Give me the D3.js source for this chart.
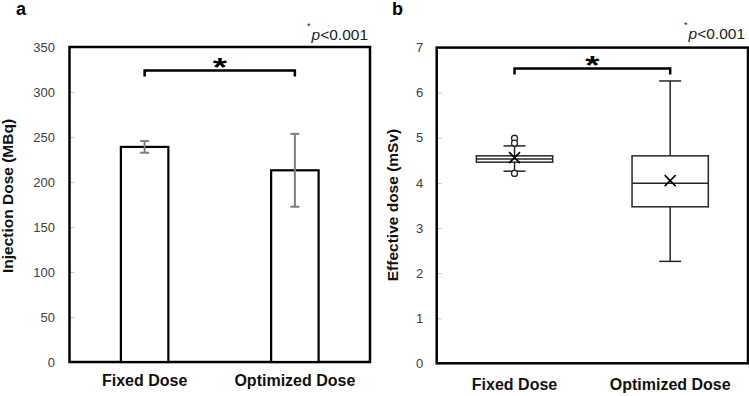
<!DOCTYPE html>
<html>
<head>
<meta charset="utf-8">
<script src="https://cdn.jsdelivr.net/npm/d3@7"></script>
<style>
  body { margin: 0; background: #fff; }
  svg { display: block; font-family: "Liberation Sans", Arial, sans-serif; }
</style>
</head>
<body>
<svg id="chart" width="749" height="396"></svg>
<script>
// categories shared by both panels
const categories = ["Fixed Dose", "Optimized Dose"];

// panel a: injection dose, mean and SD (MBq)
const injMean = [239, 213];
const injSD = [6.5, 40.5];
const ticksA = [0, 50, 100, 150, 200, 250, 300, 350];

// panel b: effective dose box plot (mSv)
const whiskerLow = [4.26, 2.26];
const q1 = [4.46, 3.47];
const median = [4.53, 3.99];
const q3 = [4.60, 4.60];
const whiskerHigh = [4.82, 6.26];
const meanB = [4.56, 4.05];
const outliers = [[4.99, 4.88, 4.21], []];
const ticksB = [0, 1, 2, 3, 4, 5, 6, 7];

const svg = d3.select("#chart");

// Draw frame, ticks, labels common to both panels
function panel(opt) {
  const x = d3.scalePoint().domain(categories).range([opt.left, opt.right]).padding(0.5);
  const y = d3.scaleLinear().domain(opt.domain).range([opt.bottom, opt.top]);
  const g = svg.append("g");

  // y axis (ticks point inward, labels outside)
  const ax = g.append("g")
    .attr("transform", `translate(${opt.left},0)`)
    .call(d3.axisLeft(y).tickValues(opt.ticks).tickFormat(d3.format("d"))
      .tickSize(-5).tickPadding(opt.labelPad));
  ax.select(".domain").remove();
  ax.selectAll(".tick line").attr("stroke", "#c8c8c8").attr("stroke-width", 1);
  ax.selectAll(".tick text")
    .attr("fill", "#404040")
    .style("font-size", "13px")
    .style("font-family", "'Liberation Sans', Arial, sans-serif");

  // frame
  g.append("rect")
    .attr("x", opt.left).attr("y", opt.top)
    .attr("width", opt.right - opt.left).attr("height", opt.bottom - opt.top)
    .attr("fill", "none").attr("stroke", "#000").attr("stroke-width", 2.5);

  // category labels
  g.selectAll(".xlab")
    .data(categories)
    .join("text")
    .attr("x", d => x(d))
    .attr("y", opt.xlabY)
    .attr("text-anchor", "middle")
    .attr("font-weight", "bold")
    .attr("font-size", 16)
    .attr("fill", "#111")
    .text(d => d);

  // y title
  g.append("text")
    .attr("transform", `translate(${opt.titleX},${opt.titleY}) rotate(-90)`)
    .attr("text-anchor", "middle")
    .attr("font-weight", "bold")
    .attr("font-size", 15.5)
    .attr("fill", "#111")
    .text(opt.title);

  // panel letter
  g.append("text")
    .attr("x", opt.letterX).attr("y", 15)
    .attr("font-weight", "bold")
    .attr("font-size", 18)
    .text(opt.letter);

  // p value note
  const pt = g.append("text")
    .attr("x", opt.pX).attr("y", opt.pY)
    .attr("text-anchor", "end")
    .attr("font-size", 15.5)
    .attr("fill", "#222");
  pt.append("tspan").attr("font-style", "italic").text("p");
  pt.append("tspan").text("<0.001");
  g.append("text")
    .attr("x", opt.pX - 61).attr("y", opt.pY - 11)
    .attr("font-size", 9)
    .attr("fill", "#222")
    .text("*");

  // significance bracket
  const x0 = x(categories[0]), x1 = x(categories[1]);
  g.append("path")
    .attr("d", `M${x0},${opt.brY + 6}V${opt.brY}H${x1}V${opt.brY + 6}`)
    .attr("fill", "none").attr("stroke", "#000").attr("stroke-width", 2.5);
  g.append("text")
    .attr("transform", `translate(${(x0 + x1) / 2},${opt.brY + 5}) scale(1.4,1)`)
    .attr("text-anchor", "middle")
    .attr("font-weight", "bold")
    .attr("font-size", 26)
    .text("*");

  return { g, x, y };
}

// ---- panel a ----
const A = panel({
  left: 69.5, right: 370, top: 47, bottom: 362, domain: [0, 350], ticks: ticksA,
  labelPad: 14.5, xlabY: 386, title: "Injection Dose (MBq)", titleX: 13, titleY: 196,
  letter: "a", letterX: 16, pX: 368, pY: 40, brY: 70.5
});
const barW = A.x.step() * 0.316;
A.g.selectAll(".bar")
  .data(categories)
  .join("rect")
  .attr("x", d => A.x(d) - barW / 2)
  .attr("y", (d, i) => A.y(injMean[i]))
  .attr("width", barW)
  .attr("height", (d, i) => A.y(0) - A.y(injMean[i]))
  .attr("fill", "#fff").attr("stroke", "#000").attr("stroke-width", 2.2);
const errA = A.g.selectAll(".err")
  .data(categories)
  .join("g")
  .attr("stroke", "#7f7f7f").attr("stroke-width", 2);
errA.append("line")
  .attr("x1", d => A.x(d)).attr("x2", d => A.x(d))
  .attr("y1", (d, i) => A.y(injMean[i] + injSD[i]))
  .attr("y2", (d, i) => A.y(injMean[i] - injSD[i]));
[1, -1].forEach(s => {
  errA.append("line")
    .attr("x1", d => A.x(d) - 4.5).attr("x2", d => A.x(d) + 4.5)
    .attr("y1", (d, i) => A.y(injMean[i] + s * injSD[i]))
    .attr("y2", (d, i) => A.y(injMean[i] + s * injSD[i]));
});

// ---- panel b ----
const B = panel({
  left: 436.7, right: 748, top: 47.6, bottom: 363.3, domain: [0, 7], ticks: ticksB,
  labelPad: 13.5, xlabY: 390, title: "Effective dose (mSv)", titleX: 398, titleY: 205,
  letter: "b", letterX: 392, pX: 745, pY: 39, brY: 68.5
});
const boxW = B.x.step() * 0.49;
const capW = 22;
const bx = B.g.selectAll(".box")
  .data(categories)
  .join("g")
  .attr("stroke", "#262626").attr("stroke-width", 1.5);
// whiskers
bx.append("line")
  .attr("x1", d => B.x(d)).attr("x2", d => B.x(d))
  .attr("y1", (d, i) => B.y(whiskerHigh[i])).attr("y2", (d, i) => B.y(q3[i]));
bx.append("line")
  .attr("x1", d => B.x(d)).attr("x2", d => B.x(d))
  .attr("y1", (d, i) => B.y(q1[i])).attr("y2", (d, i) => B.y(whiskerLow[i]));
[whiskerHigh, whiskerLow].forEach(arr => {
  bx.append("line")
    .attr("x1", d => B.x(d) - capW / 2).attr("x2", d => B.x(d) + capW / 2)
    .attr("y1", (d, i) => B.y(arr[i])).attr("y2", (d, i) => B.y(arr[i]));
});
// box
bx.append("rect")
  .attr("x", d => B.x(d) - boxW / 2)
  .attr("y", (d, i) => B.y(q3[i]))
  .attr("width", boxW)
  .attr("height", (d, i) => B.y(q1[i]) - B.y(q3[i]))
  .attr("fill", "#fff");
bx.append("line")
  .attr("x1", d => B.x(d) - boxW / 2).attr("x2", d => B.x(d) + boxW / 2)
  .attr("y1", (d, i) => B.y(median[i])).attr("y2", (d, i) => B.y(median[i]));
// mean marker
bx.append("path")
  .attr("d", (d, i) => {
    const cx = B.x(d), cy = B.y(meanB[i]), r = 5.5;
    return `M${cx - r},${cy - r}L${cx + r},${cy + r}M${cx - r},${cy + r}L${cx + r},${cy - r}`;
  })
  .attr("stroke", "#000");
// outliers
categories.forEach((c, i) => {
  B.g.selectAll(null)
    .data(outliers[i])
    .join("circle")
    .attr("cx", B.x(c))
    .attr("cy", v => B.y(v))
    .attr("r", 3)
    .attr("fill", "#fff")
    .attr("stroke", "#262626")
    .attr("stroke-width", 1.3);
});
</script>
</body>
</html>
